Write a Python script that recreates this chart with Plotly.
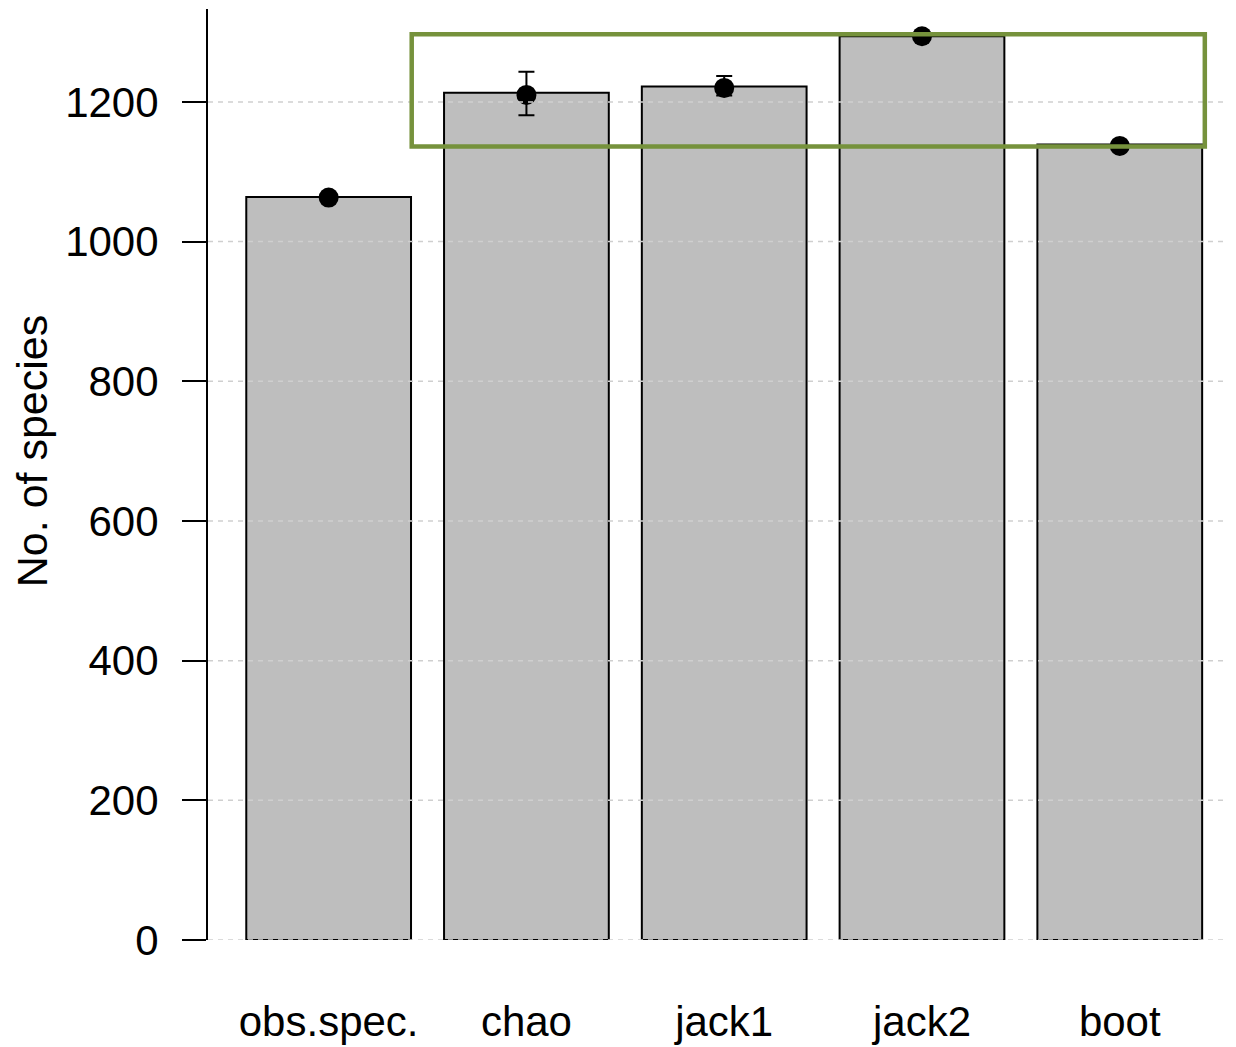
import plotly.graph_objects as go

categories = ["obs.spec.", "chao", "jack1", "jack2", "boot"]
bar_values = [1064, 1213, 1222, 1294, 1139]
point_values = [1063, 1210, 1220, 1294, 1137]
err_plus = [0, 33, 17, 3, 3]
err_minus = [0, 29, 11, 3, 3]
y_ticks = [0, 200, 400, 600, 800, 1000, 1200]
highlight_x = [0.42, 4.43]
highlight_y = [1136, 1297]

FONT = "Liberation Sans, Arial, sans-serif"
idx = list(range(len(categories)))

fig = go.Figure()
fig.add_trace(go.Bar(
    x=idx, y=bar_values, width=0.833,
    marker=dict(color="#BEBEBE", line=dict(color="black", width=2)),
    showlegend=False, hoverinfo="skip",
))
fig.add_trace(go.Scatter(
    x=idx, y=point_values, mode="markers",
    marker=dict(color="black", size=20),
    error_y=dict(type="data", symmetric=False, array=err_plus, arrayminus=err_minus,
                 color="black", thickness=2, width=8),
    showlegend=False,
))

shapes = []
for t in y_ticks:
    shapes.append(dict(type="line", xref="paper", yref="y", x0=0, x1=1.013, y0=t, y1=t,
                       line=dict(color="#CFCFCF", width=1.5, dash="5px,5px"), layer="above"))
shapes.append(dict(type="rect", xref="x", yref="y",
                   x0=highlight_x[0], x1=highlight_x[1], y0=highlight_y[0], y1=highlight_y[1],
                   line=dict(color="#76923C", width=4.5), fillcolor="rgba(0,0,0,0)", layer="above"))

fig.update_layout(
    width=1236, height=1047,
    margin=dict(l=200, r=20, t=1, b=115),
    paper_bgcolor="white", plot_bgcolor="white",
    font=dict(family=FONT, size=42, color="black"),
    shapes=shapes,
    xaxis=dict(range=[-0.61, 4.527], tickmode="array", tickvals=idx, ticktext=categories,
               showgrid=False, zeroline=False, showline=False, ticks="",
               ticklabelstandoff=53, tickfont=dict(size=42)),
    yaxis=dict(range=[0, 1333], tickmode="array", tickvals=y_ticks,
               showgrid=False, zeroline=False, showline=True, linecolor="black", linewidth=2,
               ticks="outside", ticklen=24, tickwidth=2, tickcolor="black",
               ticklabelstandoff=15, tickfont=dict(size=42)),
    annotations=[dict(text="No. of species", xref="paper", yref="paper", x=0, y=0.525,
                      xshift=-176, textangle=-90, showarrow=False,
                      xanchor="center", yanchor="middle", font=dict(size=43))],
)

fig.write_html("out.html")
